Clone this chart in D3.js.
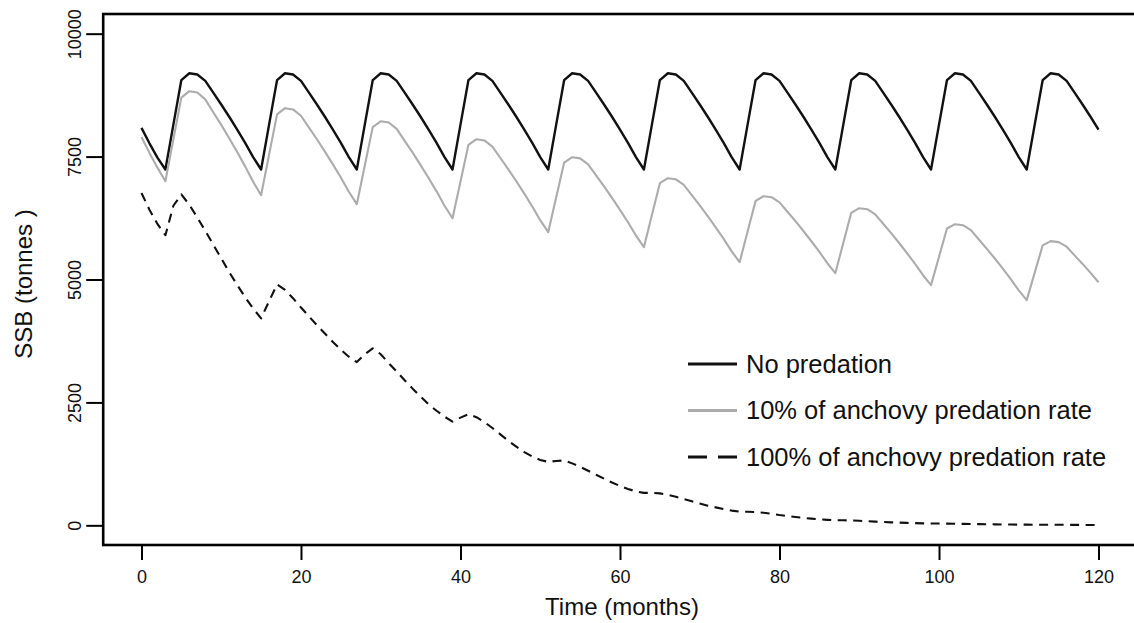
<!DOCTYPE html>
<html>
<head>
<meta charset="utf-8">
<script src="https://cdn.jsdelivr.net/npm/d3@7"></script>
<style>
  html, body { margin: 0; padding: 0; background: #ffffff; }
  svg { display: block; font-family: "Liberation Sans", Arial, sans-serif; }
</style>
</head>
<body>
<svg id="chart" width="1134" height="623"></svg>
<script>
// ---- data ----
const noPredation = [
  8083, 7770, 7480, 7237, 8150, 9056, 9195, 9170, 9040, 8800,
  8560, 8310, 8050, 7780, 7490, 7237, 8150, 9056, 9195, 9170,
  9040, 8800, 8560, 8310, 8050, 7780, 7490, 7237, 8150, 9056,
  9195, 9170, 9040, 8800, 8560, 8310, 8050, 7780, 7490, 7237,
  8150, 9056, 9195, 9170, 9040, 8800, 8560, 8310, 8050, 7780,
  7490, 7237, 8150, 9056, 9195, 9170, 9040, 8800, 8560, 8310,
  8050, 7780, 7490, 7237, 8150, 9056, 9195, 9170, 9040, 8800,
  8560, 8310, 8050, 7780, 7490, 7237, 8150, 9056, 9195, 9170,
  9040, 8800, 8560, 8310, 8050, 7780, 7490, 7237, 8150, 9056,
  9195, 9170, 9040, 8800, 8560, 8310, 8050, 7780, 7490, 7237,
  8150, 9056, 9195, 9170, 9040, 8800, 8560, 8310, 8050, 7780,
  7490, 7237, 8150, 9056, 9195, 9170, 9040, 8800, 8560, 8310,
  8050
];
const pred10 = [
  7900, 7575, 7275, 7000, 7853, 8700, 8830, 8803, 8663, 8403,
  8145, 7874, 7593, 7301, 6988, 6715, 7539, 8358, 8484, 8459,
  8330, 8090, 7852, 7602, 7342, 7073, 6784, 6532, 7318, 8099,
  8219, 8193, 8063, 7820, 7580, 7327, 7065, 6793, 6501, 6246,
  6995, 7739, 7853, 7828, 7704, 7471, 7240, 6998, 6747, 6486,
  6206, 5962, 6673, 7379, 7487, 7463, 7342, 7118, 6894, 6660,
  6417, 6165, 5894, 5658, 6311, 6960, 7060, 7038, 6925, 6715,
  6507, 6288, 6061, 5826, 5573, 5353, 5978, 6599, 6694, 6674,
  6570, 6378, 6187, 5987, 5778, 5563, 5331, 5129, 5745, 6356,
  6450, 6430, 6326, 6134, 5943, 5743, 5534, 5319, 5087, 4885,
  5463, 6037, 6125, 6105, 6003, 5813, 5624, 5427, 5221, 5008,
  4779, 4580, 5139, 5695, 5780, 5761, 5667, 5491, 5317, 5134,
  4943
];
const pred100 = [
  6760, 6420, 6130, 5900, 6500, 6730, 6520, 6260, 5990, 5710,
  5430, 5150, 4890, 4640, 4410, 4210, 4560, 4900, 4790, 4620,
  4430, 4250, 4070, 3900, 3730, 3570, 3430, 3320, 3480, 3600,
  3480, 3300, 3130, 2950, 2780, 2620, 2460, 2330, 2210, 2110,
  2190, 2260, 2200, 2100, 1980, 1850, 1720, 1600, 1490, 1400,
  1330, 1290, 1310, 1320, 1260, 1190, 1110, 1030, 950, 870,
  800, 740, 690, 660, 660, 650, 620, 580, 535, 490,
  445, 400, 365, 330, 300, 280, 275, 270, 255, 235,
  210, 190, 170, 152, 136, 122, 112, 105, 103, 100,
  92, 84, 76, 68, 61, 55, 49, 44, 40, 37,
  36, 35, 33, 30, 27, 24, 22, 20, 18, 16,
  15, 14, 13, 13, 12, 11, 10, 9, 8, 8,
  7
];
const months = d3.range(noPredation.length);
const xTicks = [0, 20, 40, 60, 80, 100, 120];
const yTicks = [0, 2500, 5000, 7500, 10000];
const seriesNames = ["No predation", "10% of anchovy predation rate", "100% of anchovy predation rate"];

// ---- drawing ----
const svg = d3.select("#chart");
const x = d3.scaleLinear().domain([-4.8, 124.8]).range([103.2, 1136.8]);
const y = d3.scaleLinear().domain([-400, 10400]).range([545, 14]);

const series = [
  { name: seriesNames[0], values: noPredation, color: "#111111", width: 2.4, dash: null, legDash: null, legWidth: 3 },
  { name: seriesNames[1], values: pred10, color: "#acacac", width: 2.1, dash: null, legDash: null, legWidth: 3 },
  { name: seriesNames[2], values: pred100, color: "#111111", width: 2.1, dash: "9,6.5", legDash: "19,11", legWidth: 3 }
];

const line = d3.line().x((d, i) => x(months[i])).y(d => y(d));

series.forEach(s => {
  svg.append("path")
    .datum(s.values)
    .attr("d", line)
    .attr("fill", "none")
    .attr("stroke", s.color)
    .attr("stroke-width", s.width)
    .attr("stroke-linejoin", "round")
    .attr("stroke-dasharray", s.dash);
});

// frame (box)
svg.append("rect")
  .attr("x", x(-4.8)).attr("y", y(10400))
  .attr("width", x(124.8) - x(-4.8)).attr("height", y(-400) - y(10400))
  .attr("fill", "none").attr("stroke", "#000").attr("stroke-width", 2.6);

// x axis
const xAxis = svg.append("g").attr("transform", `translate(0,${y(-400)})`)
  .call(d3.axisBottom(x).tickValues(xTicks).tickSize(15).tickSizeOuter(0).tickPadding(10));
xAxis.select(".domain").remove();
xAxis.selectAll(".tick line").attr("stroke", "#000").attr("stroke-width", 2);
xAxis.selectAll(".tick text").attr("font-size", 18).attr("fill", "#111")
  .attr("font-family", "'Liberation Sans', Arial, sans-serif");

// y axis
const yAxis = svg.append("g").attr("transform", `translate(${x(-4.8)},0)`)
  .call(d3.axisLeft(y).tickValues(yTicks).tickSize(17).tickSizeOuter(0).tickFormat(d3.format("d")));
yAxis.select(".domain").remove();
yAxis.selectAll(".tick line").attr("stroke", "#000").attr("stroke-width", 2);
yAxis.selectAll(".tick text")
  .attr("font-size", 18).attr("fill", "#111")
  .attr("font-family", "'Liberation Sans', Arial, sans-serif")
  .attr("text-anchor", "middle")
  .attr("x", null).attr("dy", null)
  .attr("transform", "translate(-22,0) rotate(-90)");

// axis titles
svg.append("text")
  .attr("x", 622).attr("y", 615)
  .attr("text-anchor", "middle").attr("font-size", 24).attr("fill", "#111")
  .text("Time (months)");
svg.append("text")
  .attr("transform", "translate(32,284) rotate(-90)")
  .attr("text-anchor", "middle").attr("font-size", 24).attr("fill", "#111")
  .text("SSB (tonnes )");

// legend
const legY = [364, 410.5, 457];
const leg = svg.append("g");
series.forEach((s, i) => {
  leg.append("line")
    .attr("x1", 688).attr("x2", 737).attr("y1", legY[i]).attr("y2", legY[i])
    .attr("stroke", s.color).attr("stroke-width", s.legWidth)
    .attr("stroke-dasharray", s.legDash);
  leg.append("text")
    .attr("x", 746).attr("y", legY[i]).attr("dy", "0.35em")
    .attr("font-size", 25.5).attr("fill", "#111")
    .text(s.name);
});
</script>
</body>
</html>
